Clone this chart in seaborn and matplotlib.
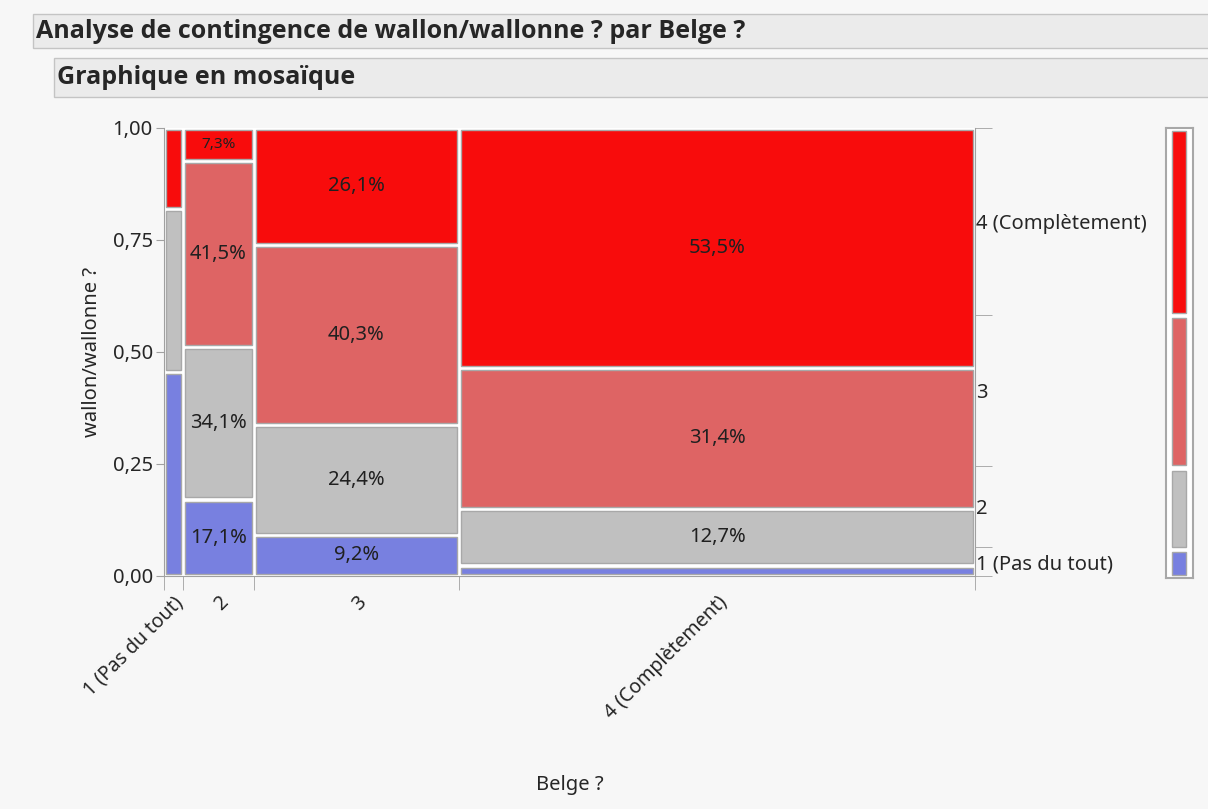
import numpy as np
import seaborn as sns
import matplotlib.pyplot as plt
from matplotlib.patches import Rectangle

# contingency counts: columns = Belge ?, rows (bottom -> top) = wallon/wallonne ?
belge_levels = ["1 (Pas du tout)", "2", "3", "4 (Complètement)"]
wallon_levels = ["1 (Pas du tout)", "2", "3", "4 (Complètement)"]
n_wallon_1 = [5, 7, 11, 7]
n_wallon_2 = [4, 14, 29, 38]
n_wallon_3 = [0, 17, 48, 94]
n_wallon_4 = [2, 3, 31, 160]
level_colors = ["#7880E0", "#C0C0C0", "#DE6464", "#F80C0C"]
ytick_vals = [0, 0.25, 0.5, 0.75, 1.0]

sns.set_style("white")
plt.rcParams["font.family"] = ["Noto Sans", "DejaVu Sans"]

counts = np.array([n_wallon_1, n_wallon_2, n_wallon_3, n_wallon_4], dtype=float)
col_tot = counts.sum(axis=0)
widths = col_tot / col_tot.sum()
lefts = np.concatenate([[0], np.cumsum(widths)[:-1]])
props = counts / col_tot
bottoms = np.vstack([np.zeros(4), np.cumsum(props, axis=0)[:-1]])

FS = 14.5
fig = plt.figure(figsize=(12.08, 8.09), dpi=100, facecolor="#F7F7F7")

# header banners
title_font = dict(family=["Open Sans", "DejaVu Sans"], fontweight="bold", fontsize=18)
fig.patches.append(Rectangle((33 / 1208, 1 - 48 / 809), 1.0, 34 / 809,
                             transform=fig.transFigure, facecolor="#EBEBEB",
                             edgecolor="#C4C4C4", lw=1))
fig.text(36 / 1208, 1 - 31 / 809, "Analyse de contingence de wallon/wallonne ? par Belge ?",
         va="center", ha="left", **title_font)
fig.patches.append(Rectangle((54 / 1208, 1 - 97 / 809), 1.0, 39 / 809,
                             transform=fig.transFigure, facecolor="#EBEBEB",
                             edgecolor="#C4C4C4", lw=1))
fig.text(57 / 1208, 1 - 78 / 809, "Graphique en mosaïque", va="center", ha="left", **title_font)

ax = fig.add_axes([164 / 1208, 1 - 576 / 809, 811 / 1208, 448 / 809])
ax.set_facecolor("white")
gx, gy = 0.0025, 0.0045
for i in range(4):
    h = props[i]
    mask = h > 0
    ax.bar(lefts[mask] + gx, h[mask] - 2 * gy, width=widths[mask] - 2 * gx,
           bottom=bottoms[i][mask] + gy, align="edge", color=level_colors[i],
           edgecolor="#A8A8A8", linewidth=1)
    for j in range(4):
        p = props[i, j]
        if j == 0 or p < 0.05:
            continue
        fs = 11 if p < 0.1 and j == 1 else FS
        ax.text(lefts[j] + widths[j] / 2, bottoms[i, j] + p / 2,
                f"{p * 100:.1f}%".replace(".", ","), ha="center", va="center",
                fontsize=fs, color="#202020")

ax.set_xlim(0, 1)
ax.set_ylim(0, 1)
for s in ["top", "right"]:
    ax.spines[s].set_visible(False)
for s in ["left", "bottom"]:
    ax.spines[s].set_color("#A0A0A0")
ax.set_yticks(ytick_vals)
ax.set_yticklabels([f"{v:.2f}".replace(".", ",") for v in ytick_vals], fontsize=FS)
ax.tick_params(axis="y", length=6, color="#A0A0A0", left=True, pad=2)
ax.set_xticks(lefts + widths / 2)
ax.set_xticklabels(belge_levels, rotation=45, ha="right", rotation_mode="anchor", fontsize=FS - 0.5)
ax.set_xticks(list(lefts) + [1.0], minor=True)
ax.tick_params(axis="x", which="major", length=0, pad=12)
ax.tick_params(axis="x", which="minor", length=10, color="#A0A0A0", bottom=True)
ax.set_ylabel("wallon/wallonne ?", fontsize=FS, labelpad=8)
ax.set_xlabel("Belge ?", fontsize=FS)
ax.xaxis.set_label_coords(0.5, -0.445)

# right axis with marginal proportions
marg = counts.sum(axis=1) / counts.sum()
cum = np.concatenate([[0], np.cumsum(marg)])
ax2 = ax.twinx()
ax2.set_ylim(0, 1)
for s in ["top", "left", "bottom"]:
    ax2.spines[s].set_visible(False)
ax2.spines["right"].set_color("#A0A0A0")
ax2.set_yticks(cum[:-1] + marg / 2)
ax2.set_yticklabels(wallon_levels, fontsize=FS)
ax2.set_yticks(cum, minor=True)
ax2.tick_params(axis="y", which="major", length=0, pad=1, right=True)
ax2.tick_params(axis="y", which="minor", length=12, color="#A0A0A0", right=True)

# legend bar
axl = fig.add_axes([1166 / 1208, 1 - 578 / 809, 27 / 1208, 450 / 809])
axl.set_facecolor("white")
for i in range(4):
    axl.bar([0.22], [marg[i] - 0.012], width=0.52, bottom=[cum[i] + 0.006], align="edge",
            color=level_colors[i], edgecolor="#A8A8A8", linewidth=1)
axl.set_xlim(0, 1)
axl.set_ylim(0, 1)
axl.set_xticks([])
axl.set_yticks([])
for s in axl.spines.values():
    s.set_color("#A8A8A8")
    s.set_linewidth(1.5)

fig.savefig("out.png", dpi=100, facecolor=fig.get_facecolor())
